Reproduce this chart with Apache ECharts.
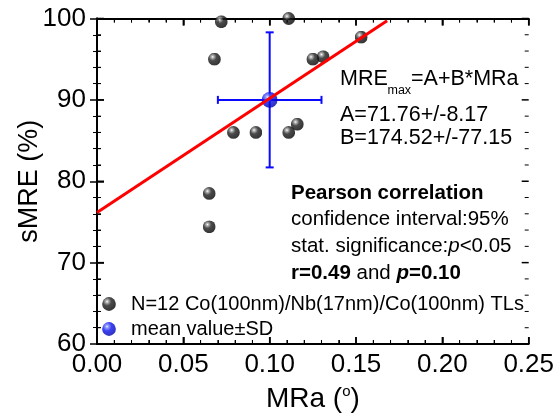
<!DOCTYPE html>
<html>
<head>
<meta charset="utf-8">
<script src="https://cdn.jsdelivr.net/npm/echarts@6/dist/echarts.min.js"></script>
<style>
  html, body { margin: 0; padding: 0; background: #fff; }
  #chart { width: 557px; height: 418px; }
</style>
</head>
<body>
<div id="chart"></div>
<script>
// Co(100nm)/Nb(17nm)/Co(100nm) trilayers: MRa (deg) vs sMRE (%)
const mraValues  = [0.072, 0.111, 0.068, 0.153, 0.125, 0.131, 0.079, 0.092, 0.111, 0.116, 0.065, 0.065];
const smreValues = [99.6, 100.0, 95.0, 97.7, 95.0, 95.3, 86.0, 86.0, 86.0, 87.0, 78.5, 74.4];

// mean value and standard deviation in both directions
const meanMRa  = [0.100];
const meanSMRE = [90.0];
const sdMRa    = [0.030];
const sdSMRE   = [8.3];

// x extent of the drawn linear fit
const fitXRange = [0, 0.168];

// axis ticks
const xTicks = [0, 0.05, 0.10, 0.15, 0.20, 0.25];
const yTicks = [60, 70, 80, 90, 100];
const minorSplit = 5;

const seriesNames = ['N=12 Co(100nm)/Nb(17nm)/Co(100nm) TLs', 'mean value\u00B1SD'];

const FONT = '"Liberation Sans", Arial, sans-serif';

// least-squares straight line through the measured points
function linearFit(xs, ys) {
  const n = xs.length;
  let sx = 0, sy = 0;
  for (let i = 0; i < n; i++) { sx += xs[i]; sy += ys[i]; }
  const mx = sx / n, my = sy / n;
  let sxy = 0, sxx = 0;
  for (let i = 0; i < n; i++) {
    sxy += (xs[i] - mx) * (ys[i] - my);
    sxx += (xs[i] - mx) * (xs[i] - mx);
  }
  const b = sxy / sxx;
  return { a: my - b * mx, b: b };
}
const fit = linearFit(mraValues, smreValues);
const fitPoints = fitXRange.map(x => [x, fit.a + fit.b * x]);

const points = mraValues.map((x, i) => [x, smreValues[i]]);
const meanPoint = meanMRa.map((x, i) => [x, meanSMRE[i]]);
const errorData = meanMRa.map((x, i) => [x, meanSMRE[i], sdMRa[i], sdSMRE[i]]);

// frame tick positions: [value, 0 = x axis / 1 = y axis, 1 = major / 0 = minor]
function tickItems(ticks, kind) {
  const out = [];
  for (let i = 0; i < ticks.length; i++) {
    out.push([ticks[i], kind, 1]);
    if (i < ticks.length - 1) {
      const step = (ticks[i + 1] - ticks[i]) / minorSplit;
      for (let k = 1; k < minorSplit; k++) out.push([ticks[i] + k * step, kind, 0]);
    }
  }
  return out;
}
const frameTicks = tickItems(xTicks, 0).concat(tickItems(yTicks, 1));

// shaded ball symbol as an inline SVG image
function sphereSymbol(stops) {
  const s = stops.map(([o, c]) => "<stop offset='" + o + "' stop-color='" + c + "'/>").join('');
  const svg = "<svg xmlns='http://www.w3.org/2000/svg' width='64' height='64' viewBox='0 0 64 64'>" +
    "<defs><radialGradient id='g' cx='0.36' cy='0.32' r='0.72'>" + s + "</radialGradient></defs>" +
    "<circle cx='32' cy='32' r='31.5' fill='url(#g)'/></svg>";
  return 'image://data:image/svg+xml;charset=utf-8,' + encodeURIComponent(svg);
}
const blackBall = sphereSymbol([[0, '#ffffff'], [0.14, '#a0a0a0'], [0.42, '#1e1e1e'], [1, '#000000']]);
const blueBall  = sphereSymbol([[0, '#eef0ff'], [0.14, '#7b88ff'], [0.45, '#0a12f0'], [1, '#0000a8']]);

// four-sided frame axes
function frameAxis(ticks, position, label, extra) {
  return Object.assign({
    type: 'value',
    position: position,
    min: ticks[0], max: ticks[ticks.length - 1], interval: ticks[1] - ticks[0],
    axisLine: { show: true, lineStyle: { color: '#000', width: 2 } },
    axisTick: { show: true, inside: true, length: 7, lineStyle: { color: '#000', width: 1.5 } },
    minorTick: { show: true, splitNumber: minorSplit, length: 4, lineStyle: { color: '#000', width: 1 } },
    splitLine: { show: false },
    axisLabel: label
  }, extra || {});
}

const chart = echarts.init(document.getElementById('chart'));

chart.setOption({
  animation: false,
  grid: { left: 97, right: 27, top: 18.5, bottom: 73 },
  xAxis: [
    frameAxis(xTicks, 'bottom',
      { show: true, fontSize: 26, color: '#000', margin: 8, fontFamily: FONT, formatter: v => v.toFixed(2) },
      {
        name: '{a|MRa (}{s|o}{a|)}',
        nameLocation: 'middle',
        nameGap: 40,
        nameMoveOverlap: false,
        nameTextStyle: {
          fontFamily: FONT, color: '#000', fontSize: 28,
          rich: {
            a: { fontSize: 28, fontFamily: FONT, color: '#000', lineHeight: 30 },
            s: { fontSize: 15, fontFamily: FONT, color: '#000', verticalAlign: 'top', lineHeight: 12 }
          }
        }
      }),
    frameAxis(xTicks, 'top', { show: false })
  ],
  yAxis: [
    frameAxis(yTicks, 'left',
      { show: true, fontSize: 26, color: '#000', margin: 11, fontFamily: FONT },
      {
        name: 'sMRE (%)',
        nameLocation: 'middle',
        nameGap: 54,
        nameMoveOverlap: false,
        nameTextStyle: { fontSize: 27, color: '#000', fontFamily: FONT }
      }),
    frameAxis(yTicks, 'right', { show: false })
  ],
  legend: {
    data: seriesNames,
    orient: 'vertical',
    left: 97, top: 289,
    itemWidth: 14, itemHeight: 14, itemGap: 5,
    textStyle: { fontSize: 20, color: '#000', fontFamily: FONT, lineHeight: 20, padding: [0, 0, 0, 10] },
    selectedMode: false
  },
  series: [
    {
      // inward ticks on all four sides of the frame, placed through the axis scales
      type: 'custom',
      silent: true,
      data: frameTicks,
      encode: { x: 0 },
      renderItem: function (params, api) {
        const v = api.value(0), kind = api.value(1), major = api.value(2);
        const len = major ? 7 : 4;
        const st = { stroke: '#000', lineWidth: major ? 1.5 : 1 };
        const xMin = xTicks[0], xMax = xTicks[xTicks.length - 1];
        const yMin = yTicks[0], yMax = yTicks[yTicks.length - 1];
        let a, b, seg;
        if (kind === 0) {
          a = api.coord([v, yMin]); b = api.coord([v, yMax]);
          seg = [
            { x1: a[0], y1: a[1], x2: a[0], y2: a[1] - len },
            { x1: b[0], y1: b[1], x2: b[0], y2: b[1] + len }
          ];
        } else {
          a = api.coord([xMin, v]); b = api.coord([xMax, v]);
          seg = [
            { x1: a[0], y1: a[1], x2: a[0] + len, y2: a[1] },
            { x1: b[0], y1: b[1], x2: b[0] - len, y2: b[1] }
          ];
        }
        return {
          type: 'group',
          children: seg.map(s => ({ type: 'line', shape: s, style: st }))
        };
      }
    },
    {
      name: seriesNames[0],
      type: 'scatter',
      data: points,
      symbol: blackBall,
      symbolSize: 13
    },
    {
      type: 'custom',
      data: errorData,
      encode: { x: 0, y: 1 },
      renderItem: function (params, api) {
        const x = api.value(0), y = api.value(1), ex = api.value(2), ey = api.value(3);
        const L = api.coord([x - ex, y]), R = api.coord([x + ex, y]);
        const T = api.coord([x, y + ey]), B = api.coord([x, y - ey]);
        const c = 4;
        const st = { stroke: '#0a0aff', lineWidth: 2 };
        const seg = (x1, y1, x2, y2) => ({ type: 'line', shape: { x1, y1, x2, y2 }, style: st });
        return {
          type: 'group',
          children: [
            seg(L[0], L[1], R[0], R[1]),
            seg(T[0], T[1], B[0], B[1]),
            seg(L[0], L[1] - c, L[0], L[1] + c),
            seg(R[0], R[1] - c, R[0], R[1] + c),
            seg(T[0] - c, T[1], T[0] + c, T[1]),
            seg(B[0] - c, B[1], B[0] + c, B[1])
          ]
        };
      }
    },
    {
      name: seriesNames[1],
      type: 'scatter',
      data: meanPoint,
      symbol: blueBall,
      symbolSize: 16
    },
    {
      type: 'line',
      data: fitPoints,
      symbol: 'none',
      lineStyle: { color: '#ff0000', width: 3 }
    }
  ],
  graphic: [
    { type: 'text', x: 340, y: 79.5, style: { text: 'MRE', font: '21.5px ' + FONT, fill: '#000', verticalAlign: 'middle' } },
    { type: 'text', x: 387.5, y: 91, style: { text: 'max', font: '12.5px ' + FONT, fill: '#000', verticalAlign: 'middle' } },
    { type: 'text', x: 411, y: 79.5, style: { text: '=A+B*MRa', font: '21.5px ' + FONT, fill: '#000', verticalAlign: 'middle' } },
    { type: 'text', x: 340, y: 115.5, style: { text: 'A=71.76+/-8.17', font: '21.5px ' + FONT, fill: '#000', verticalAlign: 'middle' } },
    { type: 'text', x: 340, y: 138.5, style: { text: 'B=174.52+/-77.15', font: '21.5px ' + FONT, fill: '#000', verticalAlign: 'middle' } },
    { type: 'text', x: 291, y: 193, style: { text: 'Pearson correlation', font: 'bold 20.5px ' + FONT, fill: '#000', verticalAlign: 'middle' } },
    { type: 'text', x: 291, y: 219.5, style: { text: 'confidence interval:95%', font: '20.5px ' + FONT, fill: '#000', verticalAlign: 'middle' } },
    {
      type: 'text', x: 291, y: 246,
      style: {
        text: '{n|stat. significance:}{i|p}{n|<0.05}',
        verticalAlign: 'middle', fill: '#000',
        rich: {
          n: { fontSize: 20.5, fontFamily: FONT, fill: '#000' },
          i: { fontSize: 20.5, fontFamily: FONT, fontStyle: 'italic', fill: '#000' }
        }
      }
    },
    {
      type: 'text', x: 291, y: 273,
      style: {
        text: '{b|r=0.49}{n| and }{bi|p}{b|=0.10}',
        verticalAlign: 'middle', fill: '#000',
        rich: {
          n: { fontSize: 20.5, fontFamily: FONT, fill: '#000' },
          b: { fontSize: 20.5, fontFamily: FONT, fontWeight: 'bold', fill: '#000' },
          bi: { fontSize: 20.5, fontFamily: FONT, fontWeight: 'bold', fontStyle: 'italic', fill: '#000' }
        }
      }
    }
  ]
});
</script>
</body>
</html>
